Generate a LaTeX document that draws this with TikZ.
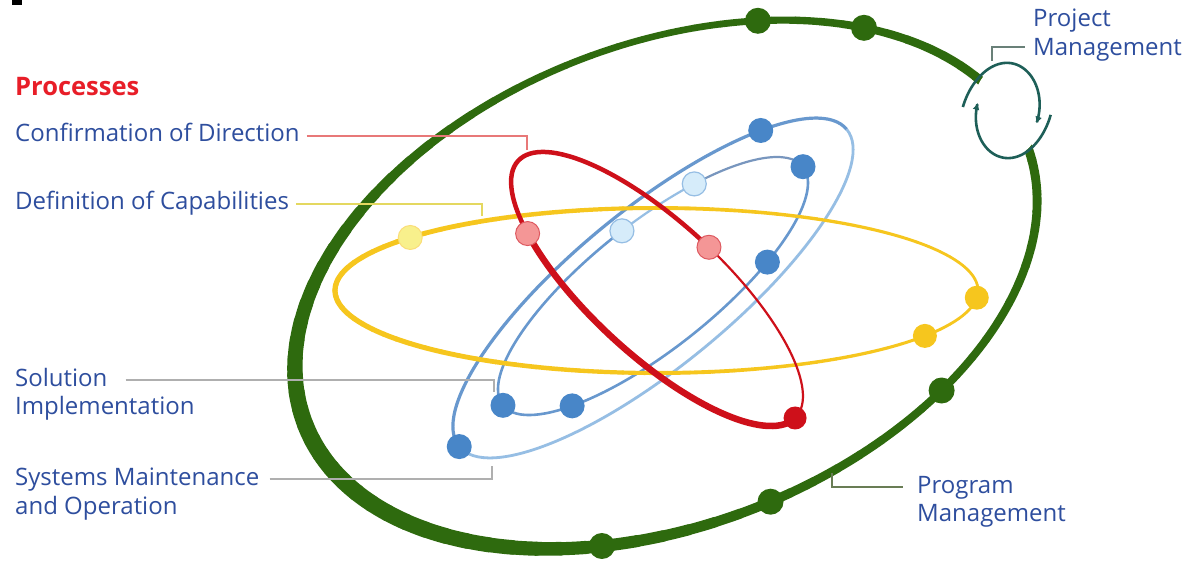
\documentclass[tikz,border=0pt]{standalone}
\usepackage{fontspec}
\setmainfont{Open Sans}
\usetikzlibrary{arrows.meta,shapes.geometric}
\definecolor{pgreen}{RGB}{46,106,14}
\definecolor{pyellow}{RGB}{246,198,30}
\definecolor{pyellowpale}{RGB}{248,240,140}
\definecolor{pred}{RGB}{206,16,26}
\definecolor{ppink}{RGB}{244,150,150}
\definecolor{pblue}{RGB}{104,152,206}
\definecolor{pbluelight}{RGB}{150,190,228}
\definecolor{pbluegray}{RGB}{120,150,190}
\definecolor{pbluedot}{RGB}{72,134,200}
\definecolor{pbluepale}{RGB}{214,236,250}
\definecolor{pteal}{RGB}{30,95,88}
\definecolor{ptext}{RGB}{46,78,158}
\definecolor{ptitle}{RGB}{232,30,40}
\definecolor{leadred}{RGB}{232,120,120}
\definecolor{leadyellow}{RGB}{228,216,96}
\definecolor{leadgray}{RGB}{175,175,175}
\definecolor{leadolive}{RGB}{105,125,85}
\definecolor{leadteal}{RGB}{105,128,120}
\begin{document}
\begin{tikzpicture}[x=1pt,y=1pt,
  lbl/.style={anchor=base west, inner sep=0pt, text height=17pt, text depth=5pt, text=ptext, font=\fontsize{24}{29}\selectfont},
  dot/.style={circle, inner sep=0pt, minimum size=#1},
  gdot/.style={dot=26pt, fill=pgreen},
  ydot/.style={dot=24pt, fill=pyellow},
  ypdot/.style={dot=24pt, fill=pyellowpale, draw=pyellow!60, line width=1pt},
  bdot/.style={dot=25pt, fill=pbluedot},
  bpdot/.style={dot=24pt, fill=pbluepale, draw=pbluelight, line width=1.2pt},
  rdot/.style={dot=23pt, fill=pred},
  rpdot/.style={dot=24pt, fill=ppink, draw=pred!70, line width=1pt},
  lead/.style={line width=1.3pt},
  cyc/.style={pteal, line width=2.6pt, -{Latex[length=7pt,width=7pt]}}
]
\useasboundingbox (0,0) rectangle (1183,-561);
\fill[white] (0,0) rectangle (1183,-561);
\fill[black] (12,0) rectangle (22,-5);

% ---------- green program ellipse ----------
\begin{scope}[shift={(666,-284.5)}, rotate=21.2]
  \foreach \t in {0,4,...,356}{
    \pgfmathsetmacro\w{10.5+4*cos(\t-200)+2.5*cos(2*(\t-10))}
    \draw[pgreen, line width=\w pt, line cap=round] (\t:387 and 240.6) arc[start angle=\t, end angle=\t+4, x radius=387, y radius=240.6];
  }
  \node[gdot] (g1) at (62.1:387 and 240.6) {};
  \node[gdot] (g2) at (44.2:387 and 240.6) {};
  \node[gdot] (g3) at (-55.6:387 and 240.6) {};
  \node[gdot] (g4) at (-87.2:387 and 240.6) {};
  \node[gdot] (g5) at (-113.5:387 and 240.6) {};
\end{scope}

% ---------- blue ellipses ----------
\begin{scope}[shift={(653,-288)}, rotate=39.3]
  \draw[pblue, line width=3.2pt] (0:250.4 and 78.7) arc[start angle=0, end angle=180, x radius=250.4, y radius=78.7];
  \draw[pbluelight, line width=2.8pt] (180:250.4 and 78.7) arc[start angle=180, end angle=360, x radius=250.4, y radius=78.7];
\end{scope}
\begin{scope}[shift={(653,-286)}, rotate=38.5]
  \draw[pbluegray, line width=2.2pt] (0:191.7 and 62.6) arc[start angle=0, end angle=60, x radius=191.7, y radius=62.6];
  \draw[pbluelight, line width=2.2pt] (60:191.7 and 62.6) arc[start angle=60, end angle=87, x radius=191.7, y radius=62.6];
  \draw[pblue, line width=2.6pt] (87:191.7 and 62.6) arc[start angle=87, end angle=360, x radius=191.7, y radius=62.6];
\end{scope}

% ---------- yellow ellipse ----------
\begin{scope}[shift={(656.5,-290.5)}]
  \foreach \t in {0,4,...,356}{
    \pgfmathsetmacro\w{4-1.3*cos(\t)}
    \draw[pyellow, line width=\w pt, line cap=round] (\t:321.5 and 82.5) arc[start angle=\t, end angle=\t+4, x radius=321.5, y radius=82.5];
  }
  \node[ypdot] (y1) at (140:321.5 and 82.5) {};
  \node[ydot] (y2) at (-5:321.5 and 82.5) {};
  \node[ydot] (y3) at (-33.4:321.5 and 82.5) {};
\end{scope}

% ---------- blue dots ----------
\begin{scope}[shift={(653,-288)}, rotate=39.3]
  \node[bdot] (bo1) at (43:250.4 and 78.7) {};
  \node[bdot] (bo2) at (180:250.4 and 78.7) {};
\end{scope}
\begin{scope}[shift={(653,-286)}, rotate=38.5]
  \node[bdot] (bi1) at (0:191.7 and 62.6) {};
  \node[bpdot] (bi2) at (60:191.7 and 62.6) {};
  \node[bpdot] (bi3) at (87:191.7 and 62.6) {};
  \node[bdot] (bi4) at (-57:191.7 and 62.6) {};
  \node[bdot] (bi5) at (180:191.7 and 62.6) {};
  \node[bdot] (bi6) at (-136:191.7 and 62.6) {};
\end{scope}

% ---------- red ellipse ----------
\begin{scope}[shift={(657,-289)}, rotate=-42.7]
  \draw[pred, line width=6.5pt] (-134.6:189 and 66) arc[start angle=-134.6, end angle=0, x radius=189, y radius=66];
  \draw[pred, line width=2.2pt] (0:189 and 66) arc[start angle=0, end angle=87, x radius=189, y radius=66];
  \draw[pred, line width=4.5pt] (87:189 and 66) arc[start angle=87, end angle=225.4, x radius=189, y radius=66];
  \node[rpdot] (r1) at (225.4:189 and 66) {};
  \node[rpdot] (r2) at (87:189 and 66) {};
  \node[rdot] (r3) at (-1:189 and 66) {};
\end{scope}

% ---------- project management cycle ----------
\node[ellipse, fill=white, inner sep=0pt, minimum width=70pt, minimum height=94pt] (pm) at (1007.5,-110.5) {};
\begin{scope}[shift={(pm.center)}]
  \draw[cyc] plot[domain=0:1, samples=80, variable=\s, smooth]
    ({35.5*(1+0.26*(1-\s)^4-0.15*\s^4)*cos(176-193*\s)}, {47.5*(1+0.05*(1-\s)^4-0.05*\s^4)*sin(176-193*\s)});
  \draw[cyc] plot[domain=0:1, samples=80, variable=\s, smooth]
    ({35.5*(1+0.22*(1-\s)^4-0.15*\s^4)*cos(-5-185*\s)}, {47.5*(1+0.05*(1-\s)^4-0.05*\s^4)*sin(-5-185*\s)});
\end{scope}

% ---------- labels ----------
\node[lbl, text=ptitle, font=\fontsize{25.5}{29}\selectfont\bfseries] (title) at (15,-96) {Processes};
\node[lbl] (conf) at (15,-142) {Confirmation of Direction};
\node[lbl] (def) at (15,-210) {Definition of Capabilities};
\node[lbl] (sol) at (15,-386) {Solution};
\node[lbl] (sol2) at (15,-414) {Implementation};
\node[lbl] (sys) at (15,-485) {Systems Maintenance};
\node[lbl] (sys2) at (15,-514) {and Operation};
\node[lbl] (proj) at (1033,-27) {Project};
\node[lbl] (proj2) at (1033,-56) {Management};
\node[lbl] (prog) at (917,-493) {Program};
\node[lbl] (prog2) at (917,-521) {Management};

% ---------- leader lines ----------
\coordinate (confE) at (527,-150);
\coordinate (defE) at (482,-216);
\coordinate (solE) at (494,-392);
\coordinate (sysE) at (492,-466);
\coordinate (progS) at (832,-473);
\coordinate (projS) at (992,-61);
\coordinate (projE) at (1025,-47);
\draw[lead, leadred] ([xshift=7pt]conf.east) -| (confE);
\draw[lead, leadyellow] ([xshift=7pt]def.east) -| (defE);
\draw[lead, leadgray] ([xshift=18pt]sol.east) -| (solE);
\draw[lead, leadgray] ([xshift=10pt]sys.east) -| (sysE);
\draw[lead, leadolive, line width=2pt] (progS) |- ([xshift=-14pt]prog.west);
\draw[lead, leadteal, line width=2pt] (projS) |- (projE);
\end{tikzpicture}
\end{document}
